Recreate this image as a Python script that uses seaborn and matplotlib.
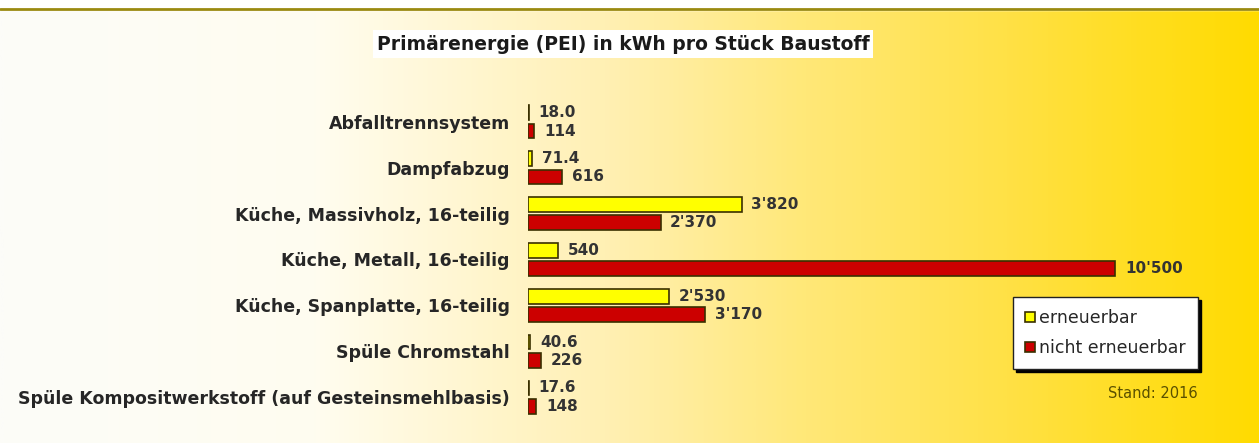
import numpy as np
import pandas as pd
import matplotlib
matplotlib.use("Agg")
import matplotlib.pyplot as plt
from matplotlib.colors import LinearSegmentedColormap
import seaborn as sns

categories = ['Abfalltrennsystem',
              'Dampfabzug',
              'Küche, Massivholz, 16-teilig',
              'Küche, Metall, 16-teilig',
              'Küche, Spanplatte, 16-teilig',
              'Spüle Chromstahl',
              'Spüle Kompositwerkstoff (auf Gesteinsmehlbasis)']
erneuerbar = [18.0, 71.4, 3820, 540, 2530, 40.6, 17.6]
nicht_erneuerbar = [114, 616, 2370, 10500, 3170, 226, 148]
series = ['erneuerbar', 'nicht erneuerbar']
colours = ['#ffff00', '#cc0000']

df = pd.DataFrame({'Baustoff': categories * 2,
                   'PEI': erneuerbar + nicht_erneuerbar,
                   'Art': [series[0]] * 7 + [series[1]] * 7})


def fmt(v):
    if v < 100:
        return f"{v:.1f}"
    return f"{v:,.0f}".replace(",", "'")


sns.set_style('white')
plt.rcParams['font.family'] = ['DejaVu Sans']

fig = plt.figure(figsize=(12.59, 4.43), dpi=100)

# background gradient white -> yellow
bg = fig.add_axes([0, 0, 1, 1], zorder=-10)
grad_cmap = LinearSegmentedColormap.from_list('bg', [
    (0.0, (252/255, 252/255, 248/255)),
    (0.25, (255/255, 253/255, 240/255)),
    (0.48, (255/255, 240/255, 180/255)),
    (0.64, (255/255, 232/255, 120/255)),
    (0.80, (255/255, 225/255, 70/255)),
    (1.0, (255/255, 219/255, 0/255))])
bg.imshow(np.linspace(0, 1, 512)[None, :], aspect='auto', cmap=grad_cmap,
          extent=[0, 1, 0, 433/443])
bg.axhspan(433/443, 1, color='white')
bg.axhline(434/443, color='#9a8a10', lw=2)
bg.set_xlim(0, 1)
bg.set_ylim(0, 1)
bg.axis('off')

ax = fig.add_axes([528/1259, 23/443, 671/1259, 321/443])
ax.patch.set_alpha(0)
sns.barplot(data=df, y='Baustoff', x='PEI', hue='Art', hue_order=series,
            palette=colours, saturation=1, orient='h', width=0.8, gap=0.2,
            edgecolor='#3a3000', linewidth=1.2, ax=ax, legend=True)

for cont, vals in zip(ax.containers, [erneuerbar, nicht_erneuerbar]):
    ax.bar_label(cont, labels=[fmt(v) for v in vals], padding=7,
                 fontsize=11, fontweight='bold', color='#333333')

ax.set_xlim(0, 12000)
ax.set_ylim(6.5, -0.5)
ax.set_xlabel('')
ax.set_ylabel('')
ax.set_xticks([])
ax.tick_params(axis='y', length=0, pad=13)
for lab in ax.get_yticklabels():
    lab.set_fontweight('bold')
    lab.set_fontsize(12.5)
    lab.set_color('#262626')
sns.despine(ax=ax, left=True, bottom=True)

handles, labels = ax.get_legend_handles_labels()
ax.legend_.remove()
fig.legend(handles, labels, loc='upper right',
           bbox_to_anchor=(1198/1259, 1 - 297/443),
           frameon=True, fancybox=False, framealpha=1,
           edgecolor='#222222', facecolor='white',
           shadow={'color': 'black', 'alpha': 1},
           fontsize=12.5, handlelength=0.55, handleheight=0.55,
           handletextpad=0.25, labelspacing=0.7, borderpad=0.7,
           borderaxespad=0)

fig.text(1198/1259, 1 - 393/443, 'Stand: 2016', ha='right', va='center',
         fontsize=10.5, color='#5a5000')
fig.text(623/1259, 1 - 44/443, 'Primärenergie (PEI) in kWh pro Stück Baustoff',
         ha='center', va='center', fontsize=13.5, fontweight='bold',
         color='#1a1a1a',
         bbox=dict(facecolor='white', edgecolor='none', pad=3))

fig.savefig('out.png', dpi=100)
